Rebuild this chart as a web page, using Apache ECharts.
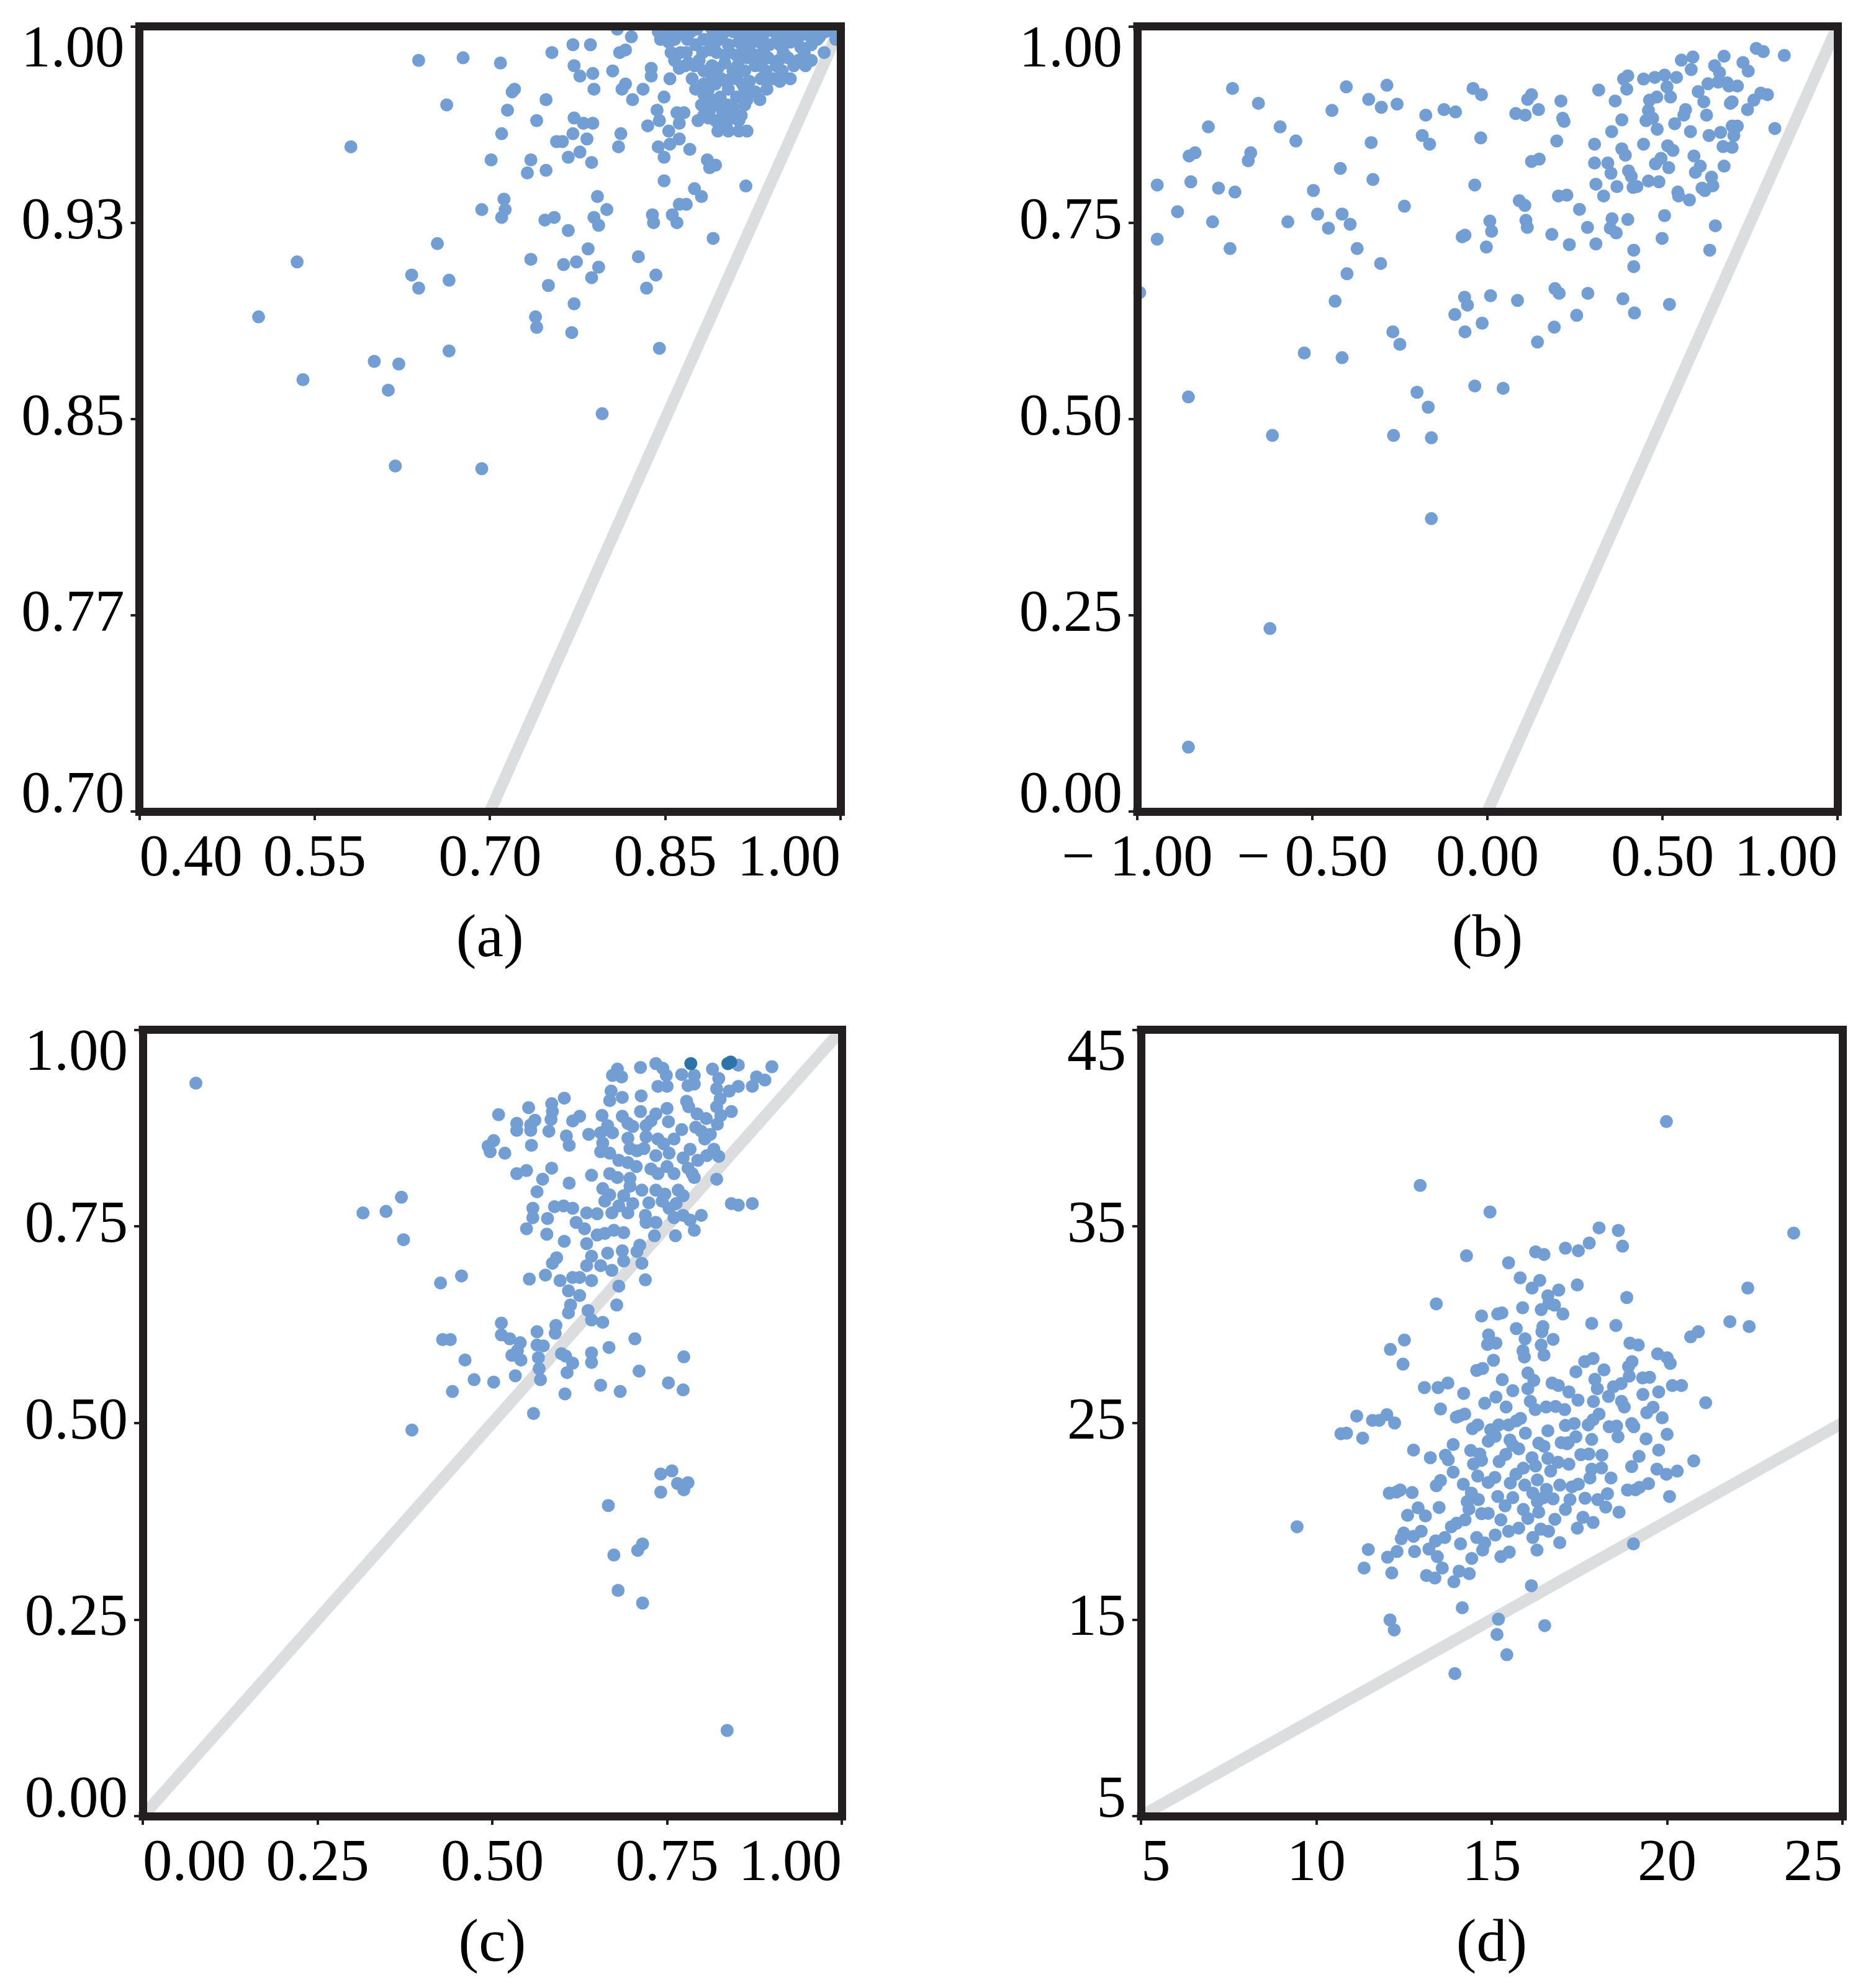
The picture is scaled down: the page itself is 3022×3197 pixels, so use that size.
<!DOCTYPE html>
<html><head><meta charset="utf-8">
<script src="https://cdn.jsdelivr.net/npm/echarts@6/dist/echarts.min.js"></script>
<style>html,body{margin:0;padding:0;background:#fff}#c{width:3022px;height:3197px}</style>
</head><body><div id="c"></div>
<script>
// ---------- data ----------
const aPoints = [
[0.502,0.889],[0.535,0.910],[0.540,0.865],[0.581,0.954],[0.601,0.872],[0.613,0.861],[0.622,0.871],[0.619,0.832],[0.639,0.987],[0.633,0.905],[0.639,0.900],[0.655,0.917],[0.665,0.903],[0.665,0.876],[0.663,0.970],[0.677,0.988],[0.693,0.831],[0.693,0.930],[0.709,0.986],[0.701,0.949],[0.710,0.959],[0.710,0.927],[0.712,0.934],[0.713,0.930],[0.715,0.968],[0.719,0.975],[0.721,0.976],[0.732,0.944],[0.735,0.949],[0.735,0.911],[0.739,0.889],[0.740,0.885],[0.740,0.964],[0.748,0.972],[0.748,0.945],[0.750,0.901],[0.747,0.926],
[0.772,0.894],[0.770,0.883],[0.796,0.852],[0.834,0.900],[0.845,0.877],
[0.753,0.990],[0.771,0.993],[0.786,0.993],[0.772,0.985],[0.777,0.981],[0.788,0.982],[0.789,0.976],[0.805,0.983],[0.811,0.990],[0.816,0.991],[0.821,0.996],[0.809,0.999],[0.813,0.976],[0.816,0.978],[0.822,0.972],[0.831,0.976],[0.838,0.984],[0.838,0.981],[0.854,0.980],[0.849,0.973],[0.843,0.968],[0.845,0.964],[0.835,0.962],[0.853,0.960],[0.854,0.955],[0.862,0.957],[0.844,0.954],[0.849,0.950],[0.860,0.967],[0.866,0.967],[0.862,0.963],[0.871,0.953],[0.886,0.949],[0.893,0.947],[0.888,0.946],[0.849,0.941],[0.875,0.938],[0.881,0.935],[0.919,0.939],[0.772,0.965],[0.780,0.963],[0.788,0.963],[0.771,0.959],[0.757,0.956],[0.762,0.956],[0.783,0.957],[0.777,0.952],[0.767,0.950],[0.787,0.948],[0.812,0.959],[0.810,0.954],[0.792,0.935],[0.800,0.930],[0.789,0.927],[0.793,0.924],[0.755,0.927],[0.767,0.922],[0.784,0.915],[0.763,0.909],[0.774,0.910],[0.793,0.908],[0.787,0.904],[0.827,0.912],[0.842,0.905],[0.839,0.928],[0.840,0.925],[0.862,0.932],[0.868,0.932],[0.856,0.928],[0.860,0.925],[0.891,0.919],
[0.844,0.998],[0.853,0.994],[0.851,0.997],[0.862,0.997],[0.872,0.998],[0.883,0.995],[0.876,0.993],[0.863,0.990],[0.858,0.987],[0.862,0.984],[0.870,0.986],[0.879,0.987],[0.883,0.983],[0.888,0.991],[0.893,0.994],[0.899,0.997],[0.908,0.998],[0.916,0.997],[0.925,0.998],[0.934,0.997],[0.943,0.998],[0.952,0.997],[0.961,0.998],[0.970,0.997],[0.978,0.997],[0.987,0.998],[0.993,0.998],[0.904,0.993],[0.913,0.994],[0.922,0.992],[0.931,0.994],[0.939,0.993],[0.948,0.993],[0.957,0.994],[0.966,0.992],[0.975,0.993],[0.982,0.996],[0.901,0.989],[0.911,0.989],[0.920,0.988],[0.929,0.989],[0.938,0.988],[0.947,0.987],[0.955,0.988],[0.964,0.987],[0.975,0.987],[0.901,0.986],[0.895,0.984],[0.908,0.983],[0.918,0.983],[0.927,0.985],[0.936,0.983],[0.943,0.980],[0.950,0.983],[0.948,0.979],[0.932,0.980],[0.890,0.981],[0.883,0.978],[0.893,0.978],[0.902,0.979],[0.911,0.980],[0.916,0.978],[0.922,0.979],[0.927,0.975],[0.931,0.972],[0.883,0.974],[0.881,0.970],[0.890,0.972],[0.897,0.973],[0.904,0.976],[0.911,0.973],[0.908,0.969],[0.899,0.968],[0.888,0.968],[0.893,0.964],[0.902,0.962],[0.913,0.964],[0.915,0.966],[0.913,0.960],[0.904,0.960],[0.878,0.964],[0.883,0.966],[0.920,0.972],
[0.855,0.999],[0.866,0.999],[0.877,0.999],[0.890,0.999],[0.903,0.999],[0.920,0.999],[0.937,0.999],[0.955,0.999],[0.972,0.999],[0.990,0.999],[0.846,0.995],[0.858,0.995],[0.869,0.995],[0.887,0.995],[0.896,0.995],[0.918,0.995],[0.928,0.995],[0.946,0.995],[0.963,0.995],[0.980,0.995],[0.996,0.995],[0.855,0.990],[0.868,0.990],[0.882,0.990],[0.894,0.990],[0.905,0.990],[0.916,0.990],[0.934,0.990],[0.951,0.990],[0.969,0.990],[0.986,0.990],[0.867,0.985],[0.875,0.985],[0.890,0.985],[0.912,0.985],[0.932,0.985],[0.945,0.985],[0.960,0.985],[0.970,0.985],[0.873,0.980],[0.898,0.980],[0.906,0.980],[0.940,0.980],[0.957,0.980],[0.876,0.976],[0.887,0.976],[0.918,0.976],[0.937,0.976],[0.886,0.970],[0.895,0.970],[0.903,0.970],[0.918,0.970],[0.887,0.965],[0.898,0.965],[0.907,0.965],[0.895,0.960],[0.920,0.960]
];
const bPoints = [
[-0.993,0.661],[-0.943,0.798],[-0.943,0.729],[-0.885,0.764],[-0.852,0.835],[-0.847,0.802],[-0.835,0.839],[-0.854,0.528],[-0.854,0.082],[-0.797,0.872],[-0.785,0.751],[-0.768,0.794],[-0.735,0.717],[-0.728,0.921],[-0.721,0.789],[-0.683,0.829],[-0.676,0.839],[-0.654,0.902],[-0.614,0.479],[-0.621,0.233],[-0.592,0.872],[-0.570,0.751],[-0.547,0.854],[-0.523,0.584],[-0.497,0.791],[-0.485,0.761],[-0.454,0.743],[-0.444,0.893],[-0.435,0.650],[-0.420,0.819],[-0.415,0.761],[-0.415,0.578],[-0.403,0.923],[-0.401,0.685],[-0.392,0.748],[-0.372,0.717],[-0.339,0.907],[-0.332,0.852],[-0.327,0.805],[-0.305,0.698],[-0.303,0.897],[-0.287,0.925],[-0.270,0.611],[-0.268,0.479],[-0.258,0.901],[-0.250,0.595],[-0.237,0.771],[-0.201,0.534],[-0.186,0.861],[-0.176,0.887],[-0.169,0.515],[-0.165,0.850],[-0.160,0.476],[-0.160,0.373],[-0.124,0.894],[-0.091,0.891],[-0.093,0.633],[-0.072,0.732],[-0.064,0.734],[-0.065,0.655],[-0.064,0.611],[-0.057,0.645],[-0.041,0.921],[-0.036,0.798],[-0.036,0.542],[-0.017,0.913],[-0.019,0.858],[-0.015,0.622],[-0.003,0.719],[0.007,0.752],[0.009,0.657],[0.012,0.739],[0.045,0.539],[0.081,0.889],[0.086,0.651],[0.091,0.778],[0.107,0.772],[0.108,0.887],[0.110,0.753],[0.114,0.744],[0.115,0.907],[0.126,0.913],[0.126,0.828],[0.143,0.598],[0.146,0.894],[0.148,0.831],[0.184,0.735],[0.191,0.617],[0.193,0.666],[0.198,0.854],[0.203,0.784],[0.205,0.660],[0.210,0.905],[0.215,0.883],[0.219,0.879],[0.227,0.785],[0.234,0.722],[0.255,0.632],[0.263,0.767],[0.286,0.744],[0.287,0.660],[0.306,0.850],[0.306,0.826],[0.310,0.723],[0.310,0.799],[0.318,0.919],[0.332,0.784],[0.344,0.826],[0.351,0.743],[0.353,0.813],[0.355,0.866],[0.356,0.755],[0.365,0.905],[0.368,0.737],[0.370,0.796],[0.384,0.844],[0.384,0.881],[0.387,0.653],[0.389,0.933],[0.394,0.836],[0.398,0.920],[0.401,0.937],[0.401,0.754],[0.403,0.816],[0.411,0.809],[0.416,0.795],[0.418,0.715],[0.418,0.694],[0.420,0.635],[0.427,0.796],[0.446,0.933],[0.446,0.850],[0.453,0.880],[0.460,0.893],[0.463,0.906],[0.460,0.803],[0.472,0.883],[0.478,0.935],[0.480,0.825],[0.484,0.910],[0.485,0.869],[0.490,0.802],[0.496,0.832],[0.499,0.730],[0.506,0.759],[0.506,0.938],[0.513,0.923],[0.518,0.820],[0.523,0.910],[0.520,0.646],[0.515,0.848],[0.530,0.842],[0.535,0.876],[0.540,0.935],[0.544,0.789],[0.546,0.784],[0.554,0.957],[0.561,0.887],[0.566,0.894],[0.577,0.779],[0.580,0.866],[0.582,0.945],[0.587,0.961],[0.590,0.835],[0.594,0.814],[0.602,0.917],[0.608,0.822],[0.613,0.794],[0.618,0.904],[0.621,0.791],[0.626,0.887],[0.630,0.927],[0.633,0.861],[0.635,0.715],[0.640,0.808],[0.644,0.797],[0.649,0.950],[0.651,0.746],[0.659,0.929],[0.663,0.941],[0.666,0.865],[0.673,0.847],[0.676,0.822],[0.676,0.962],[0.685,0.928],[0.690,0.924],[0.694,0.902],[0.699,0.873],[0.699,0.904],[0.704,0.861],[0.699,0.846],[0.714,0.873],[0.714,0.924],[0.730,0.954],[0.743,0.894],[0.745,0.943],[0.761,0.906],[0.768,0.972],[0.781,0.915],[0.788,0.968],[0.800,0.913],[0.821,0.870],[0.848,0.963]
];
const cPoints = [
[0.076,0.932],[0.315,0.767],[0.348,0.769],[0.370,0.787],[0.373,0.733],[0.385,0.491],[0.426,0.678],[0.456,0.687],[0.429,0.606],[0.440,0.606],[0.461,0.580],[0.474,0.555],[0.443,0.540],[0.502,0.552],[0.559,0.512],[0.567,0.569],[0.666,0.395],[0.674,0.332],[0.680,0.287],[0.708,0.338],[0.715,0.346],[0.715,0.271],[0.741,0.435],[0.741,0.412],[0.757,0.439],[0.765,0.423],[0.774,0.415],[0.780,0.424],[0.836,0.109],[0.655,0.548],[0.683,0.540],[0.604,0.537],[0.773,0.542],
[0.679,0.950],[0.685,0.940],[0.672,0.942],[0.712,0.952],[0.734,0.957],[0.744,0.951],[0.749,0.942],[0.852,0.955],[0.815,0.950],[0.900,0.953],[0.771,0.943],[0.789,0.942],[0.824,0.938],[0.878,0.940],[0.890,0.936],[0.737,0.928],[0.750,0.928],[0.780,0.929],[0.789,0.931],[0.821,0.925],[0.839,0.922],[0.852,0.928],[0.872,0.928],[0.670,0.922],[0.686,0.914],[0.713,0.916],[0.826,0.912],[0.668,0.910],[0.603,0.913],[0.585,0.906],[0.552,0.901],[0.586,0.896],[0.509,0.892],[0.625,0.890],[0.615,0.884],[0.657,0.891],[0.686,0.890],[0.712,0.896],[0.734,0.893],[0.750,0.900],[0.778,0.909],[0.781,0.902],[0.821,0.902],[0.842,0.896],[0.793,0.893],[0.806,0.887],[0.827,0.891],[0.822,0.880],[0.535,0.881],[0.561,0.885],[0.555,0.879],[0.584,0.886],[0.581,0.871],[0.535,0.872],[0.555,0.872],[0.665,0.878],[0.672,0.869],[0.694,0.881],[0.701,0.877],[0.720,0.878],[0.727,0.884],[0.752,0.883],[0.771,0.873],[0.791,0.876],[0.799,0.871],[0.812,0.867],[0.638,0.867],[0.655,0.869],[0.694,0.862],[0.720,0.864],[0.737,0.861],[0.745,0.855],[0.760,0.861],[0.804,0.861],[0.606,0.865],[0.610,0.853],[0.556,0.853],[0.502,0.859],[0.494,0.852],[0.497,0.845],[0.518,0.843],[0.658,0.856],[0.655,0.845],[0.668,0.843],[0.697,0.849],[0.707,0.846],[0.717,0.849],[0.734,0.840],[0.753,0.843],[0.783,0.848],[0.773,0.837],[0.794,0.834],[0.807,0.840],[0.824,0.839],[0.817,0.848],[0.681,0.834],[0.694,0.831],[0.706,0.826],[0.727,0.823],[0.750,0.826],[0.780,0.824],[0.786,0.817],[0.549,0.821],[0.535,0.817],[0.585,0.824],[0.572,0.810],[0.642,0.815],[0.668,0.817],[0.679,0.812],[0.697,0.811],[0.737,0.817],[0.760,0.817],[0.789,0.812],[0.821,0.810],[0.610,0.805],[0.564,0.794],[0.658,0.798],[0.697,0.801],[0.714,0.796],[0.734,0.796],[0.747,0.791],[0.766,0.796],[0.773,0.789],[0.668,0.790],[0.688,0.789],[0.661,0.782],[0.681,0.776],[0.701,0.779],[0.724,0.780],[0.743,0.782],[0.763,0.779],[0.753,0.773],[0.602,0.776],[0.615,0.773],[0.589,0.775],[0.558,0.773],[0.579,0.760],[0.558,0.761],[0.620,0.755],[0.635,0.767],[0.650,0.766],[0.671,0.767],[0.694,0.767],[0.719,0.764],[0.734,0.755],[0.760,0.761],[0.773,0.764],[0.799,0.764],[0.783,0.758],[0.842,0.779],[0.852,0.777],[0.872,0.779],[0.632,0.747],[0.549,0.747],[0.578,0.740],[0.603,0.731],[0.650,0.739],[0.661,0.741],[0.674,0.745],[0.688,0.742],[0.720,0.755],[0.732,0.738],[0.762,0.738],[0.789,0.745],[0.635,0.728],[0.711,0.726],[0.707,0.718],[0.665,0.716],[0.686,0.719],[0.688,0.706],[0.642,0.712],[0.635,0.700],[0.592,0.710],[0.586,0.703],[0.655,0.700],[0.671,0.694],[0.714,0.703],[0.576,0.688],[0.553,0.683],[0.597,0.681],[0.615,0.685],[0.642,0.681],[0.625,0.685],[0.719,0.682],[0.681,0.674],[0.609,0.668],[0.625,0.662],[0.612,0.650],[0.609,0.640],[0.637,0.643],[0.642,0.631],[0.658,0.628],[0.678,0.650],[0.513,0.627],[0.591,0.624],[0.590,0.614],[0.564,0.616],[0.513,0.612],[0.525,0.607],[0.540,0.602],[0.536,0.592],[0.528,0.586],[0.541,0.580],[0.564,0.599],[0.573,0.598],[0.566,0.583],[0.599,0.588],[0.605,0.585],[0.615,0.576],[0.607,0.564],[0.642,0.589],[0.642,0.577],[0.667,0.596],[0.704,0.607],[0.710,0.566],[0.774,0.584],[0.752,0.551],[0.533,0.560],[0.569,0.555]
];
const cDarkPoints = [[0.784,0.957],[0.837,0.957],[0.841,0.959]];
const dPoints = [
[19.98,40.33],[12.96,37.08],[14.95,35.73],[23.61,34.66],[18.06,34.92],[18.61,34.79],[18.73,33.99],[17.78,34.15],[17.10,33.89],[17.47,33.76],[14.28,33.50],[16.25,33.70],[16.49,33.57],[15.48,33.15],[15.81,32.38],[16.37,32.25],[17.44,32.02],[16.91,31.76],[18.85,31.38],[22.30,31.86],[16.15,31.86],[16.60,31.47],[16.63,31.09],[13.42,31.06],[16.79,30.99],[15.88,30.86],[16.41,30.76],[17.03,30.54],[14.71,30.44],[15.29,30.60],[15.17,30.54],[17.85,30.06],[18.54,29.96],[21.79,30.15],[22.34,29.90],[15.70,29.80],[16.46,29.90],[16.43,29.64],[20.67,29.38],[20.89,29.64],[14.91,29.48],[15.12,29.06],[14.88,28.99],[18.94,29.06],[19.18,28.96],[16.75,29.25],[16.41,28.96],[15.95,29.28],[15.89,28.67],[12.11,28.74],[12.51,29.22],[16.49,28.45],[15.93,28.35],[15.05,28.19],[19.73,28.51],[20.00,28.32],[20.09,28.03],[17.65,28.12],[17.89,28.28],[19.00,28.12],[18.90,27.87],[12.47,27.99],[16.72,27.03],[17.94,27.22],[18.01,26.74],[18.69,27.00],[18.92,27.38],[19.30,27.29],[19.50,27.32],[14.74,27.77],[14.57,27.67],[16.03,27.54],[16.20,27.16],[16.03,26.74],[13.08,26.80],[13.47,26.80],[13.75,27.03],[20.15,26.90],[20.41,26.90],[19.76,26.58],[17.46,26.16],[17.20,26.58],[17.90,26.09],[18.33,26.35],[18.47,26.84],[19.31,26.45],[21.10,26.03],[15.60,26.64],[15.12,26.32],[15.41,25.81],[13.54,25.71],[14.07,25.35],[16.24,25.68],[16.55,25.81],[16.82,25.84],[17.08,25.68],[17.35,24.97],[17.75,24.90],[17.89,25.16],[18.06,25.45],[18.35,24.81],[18.56,24.84],[18.78,25.81],[18.99,24.97],[19.42,25.52],[19.05,24.81],[19.86,25.26],[20.00,24.42],[19.40,24.19],[10.70,24.45],[10.86,24.48],[11.15,25.35],[11.32,24.23],[11.60,25.13],[11.79,25.13],[12.01,25.42],[12.23,25.00],[14.45,24.71],[14.97,24.65],[15.48,24.90],[15.82,25.23],[15.96,24.48],[17.10,24.87],[17.18,24.00],[13.99,25.29],[14.23,25.45],[14.90,24.07],[15.10,24.32],[15.52,24.13],[16.34,23.97],[16.49,23.81],[16.98,24.00],[17.15,23.94],[17.85,24.16],[17.85,22.65],[17.54,23.39],[17.77,23.42],[18.14,23.36],[12.77,23.62],[13.25,23.23],[13.68,23.36],[19.76,23.62],[20.76,23.07],[19.71,22.65],[18.99,22.78],[14.48,22.91],[14.66,23.42],[14.71,23.10],[20.29,22.55],[19.98,22.39],[19.47,21.91],[19.21,21.72],[15.21,23.04],[15.60,23.87],[15.77,23.68],[16.15,23.23],[16.25,22.81],[16.68,22.55],[16.89,23.00],[17.29,21.75],[16.94,21.84],[17.47,21.88],[17.66,21.17],[18.02,21.10],[18.13,22.71],[18.25,20.72],[18.63,20.46],[18.87,21.59],[20.07,21.26],[16.56,21.62],[16.75,21.14],[16.48,21.20],[16.34,20.46],[15.94,21.84],[16.17,21.43],[15.69,22.39],[15.53,21.94],[15.09,22.23],[14.90,21.97],[15.17,21.26],[15.38,20.78],[15.26,20.07],[15.48,19.49],[15.77,19.65],[16.03,20.14],[14.42,21.43],[14.62,21.10],[14.35,20.62],[14.71,20.39],[14.57,19.17],[14.24,20.07],[13.76,23.13],[14.19,21.88],[13.42,21.81],[13.54,22.07],[12.90,20.68],[13.11,20.27],[12.73,21.46],[12.39,21.59],[12.29,21.49],[12.08,21.43],[13.85,19.72],[16.17,19.17],[16.62,19.49],[16.94,18.91],[17.44,19.65],[17.89,19.94],[17.23,21.10],[12.99,19.49],[12.49,19.40],[12.77,19.23],[12.42,19.11],[13.66,19.17],[14.11,18.85],[13.14,17.24],[13.38,17.11],[13.59,17.62],[13.21,18.59],[13.45,18.20],[15.26,18.20],[15.50,18.43],[14.74,18.53],[16.29,18.53],[19.04,18.85],[13.92,16.92],[14.07,17.46],[14.36,17.33],[14.43,18.11],[12.80,18.46],[12.30,18.46],[11.48,18.56],[11.36,17.62],[12.03,18.17],[12.15,17.37],[12.10,14.98],[12.22,14.47],[14.16,15.60],[15.19,15.02],[15.15,14.24],[15.43,13.21],[16.51,14.69],[13.95,12.25],[16.13,16.72],[9.45,19.72],
[14.20,26.50],[14.80,26.00],[15.30,27.20],[15.70,25.10],[16.10,26.10],[16.90,26.90],[17.40,27.60],[18.20,27.70],[18.70,26.10],[19.60,25.80],[14.60,24.90],[15.20,24.90],[16.60,24.60],[17.40,24.30],[18.60,24.30],[19.20,23.30],[13.90,23.90],[14.40,23.60],[15.40,23.40],[16.60,23.20],[17.20,22.90],[18.40,22.20],[19.10,21.60],[13.90,22.50],[14.60,22.30],[15.90,22.70],[16.30,22.10],[17.80,22.20],[18.30,21.40],[14.30,21.00],[15.60,21.20],[16.30,21.00],[17.10,20.60],[17.60,20.20],[14.90,20.40],[15.90,20.60],[16.80,20.10],[13.50,20.70],[14.00,19.90],[15.10,19.30],[16.40,19.60],[12.60,20.30],[13.40,19.00],[14.80,18.90]
];

const aXTicks = ['0.40','0.55','0.70','0.85','1.00'];
const aYTicks = ['0.70','0.77','0.85','0.93','1.00'];
const bXTicks = ['\u2212 1.00','\u2212 0.50','0.00','0.50','1.00'];
const bYTicks = ['0.00','0.25','0.50','0.75','1.00'];
const cXTicks = ['0.00','0.25','0.50','0.75','1.00'];
const cYTicks = ['0.00','0.25','0.50','0.75','1.00'];
const dXTicks = ['5','10','15','20','25'];
const dYTicks = ['5','15','25','35','45'];
const captions = ['(a)','(b)','(c)','(d)'];

// ---------- layout ----------
const FONT = '"Liberation Serif","Times New Roman",Times,serif';
const FS = 95;
const FRAME = '#231f20';
const DOT = '#729ed3';
const DARK = '#2b73a8';
const DIAG = '#dcdddf';

const panels = [
  {grid:{left:224.5, top:42.5, width:1129.5, height:1264.5},
   x:{min:0.40,max:1.00,interval:0.15,labels:aXTicks,minAlign:'left'},
   y:{min:0.70,max:1.00,interval:0.075,labels:aYTicks},
   pts:aPoints, diag:[0.70,1.00]},
  {grid:{left:1832, top:42.5, width:1128, height:1264.5},
   x:{min:-1,max:1,interval:0.5,labels:bXTicks,minAlign:'center'},
   y:{min:0,max:1,interval:0.25,labels:bYTicks},
   pts:bPoints, diag:[0,1]},
  {grid:{left:230, top:1658.5, width:1126, height:1266.5},
   x:{min:0,max:1,interval:0.25,labels:cXTicks,minAlign:'left'},
   y:{min:0,max:1,interval:0.25,labels:cYTicks},
   pts:cPoints, dark:cDarkPoints, diag:[0,1]},
  {grid:{left:1838, top:1658.5, width:1130, height:1266.5},
   x:{min:5,max:25,interval:5,labels:dXTicks,minAlign:'left'},
   y:{min:5,max:45,interval:10,labels:dYTicks},
   pts:dPoints, diag:[5,25]}
];

function idxOf(ax, v){ return Math.round((v - ax.min) / ax.interval); }
function fmtX(ax){
  return function(v){ const l = ax.labels[idxOf(ax, v)]; return l !== undefined ? l : ''; };
}
function fmtY(ax){
  return function(v){
    const i = idxOf(ax, v), l = ax.labels[i];
    if (l === undefined) return '';
    if (i === 0) return '{mn|' + l + '}';
    if (i === ax.labels.length - 1) return '{mx|' + l + '}';
    return l;
  };
}
const lineStyle = {color:FRAME, width:13, cap:'square'};

const grid = [], xAxis = [], yAxis = [], series = [];
panels.forEach((p, i) => {
  grid.push(Object.assign({containLabel:false, outerBoundsMode:'none'}, p.grid));
  xAxis.push({
    type:'value', gridIndex:i, position:'bottom', min:p.x.min, max:p.x.max, interval:p.x.interval, z:5,
    axisLine:{show:true, onZero:false, lineStyle},
    axisTick:{show:true, inside:false, length:14, lineStyle:{color:FRAME, width:4}},
    splitLine:{show:false},
    axisLabel:{show:true, margin:46, fontFamily:FONT, fontSize:FS, color:'#000', lineHeight:64,
      formatter:fmtX(p.x), showMinLabel:true, showMaxLabel:true,
      alignMinLabel:p.x.minAlign, alignMaxLabel:'right', hideOverlap:false},
    name:captions[i], nameLocation:'middle', nameGap:158, nameMoveOverlap:false,
    nameTextStyle:{fontFamily:FONT, fontSize:98, color:'#000', lineHeight:98, verticalAlign:'top'}
  });
  xAxis.push({
    type:'value', gridIndex:i, position:'top', min:p.x.min, max:p.x.max, interval:p.x.interval, z:5,
    axisLine:{show:true, onZero:false, lineStyle},
    axisTick:{show:false}, axisLabel:{show:false}, splitLine:{show:false}
  });
  yAxis.push({
    type:'value', gridIndex:i, position:'left', min:p.y.min, max:p.y.max, interval:p.y.interval, z:5,
    axisLine:{show:true, onZero:false, lineStyle},
    axisTick:{show:true, inside:false, length:14, lineStyle:{color:FRAME, width:4}},
    splitLine:{show:false},
    axisLabel:{show:true, margin:24, fontFamily:FONT, fontSize:FS, color:'#000', lineHeight:64,
      formatter:fmtY(p.y), showMinLabel:true, showMaxLabel:true,
      verticalAlignMinLabel:'bottom', verticalAlignMaxLabel:'top', hideOverlap:false,
      rich:{
        mn:{fontFamily:FONT, fontSize:FS, color:'#000', lineHeight:48},
        mx:{fontFamily:FONT, fontSize:FS, color:'#000', lineHeight:80}
      }}
  });
  yAxis.push({
    type:'value', gridIndex:i, position:'right', min:p.y.min, max:p.y.max, interval:p.y.interval, z:5,
    axisLine:{show:true, onZero:false, lineStyle},
    axisTick:{show:false}, axisLabel:{show:false}, splitLine:{show:false}
  });
  series.push({
    type:'line', xAxisIndex:2*i, yAxisIndex:2*i, z:1, silent:true, clip:true,
    data:[[p.diag[0],p.diag[0]],[p.diag[1],p.diag[1]]],
    symbol:'none', lineStyle:{color:DIAG, width:19, cap:'butt'}
  });
  series.push({
    type:'scatter', xAxisIndex:2*i, yAxisIndex:2*i, z:2, silent:true,
    data:p.pts, symbol:'circle', symbolSize:21, itemStyle:{color:DOT, opacity:1}
  });
  if (p.dark) {
    series.push({
      type:'scatter', xAxisIndex:2*i, yAxisIndex:2*i, z:3, silent:true,
      data:p.dark, symbol:'circle', symbolSize:21, itemStyle:{color:DARK, opacity:1}
    });
  }
});

const chart = echarts.init(document.getElementById('c'), null, {renderer:'canvas', width:3022, height:3197});
chart.setOption({
  backgroundColor:'#ffffff',
  animation:false,
  grid, xAxis, yAxis, series
});
</script>
</body></html>
